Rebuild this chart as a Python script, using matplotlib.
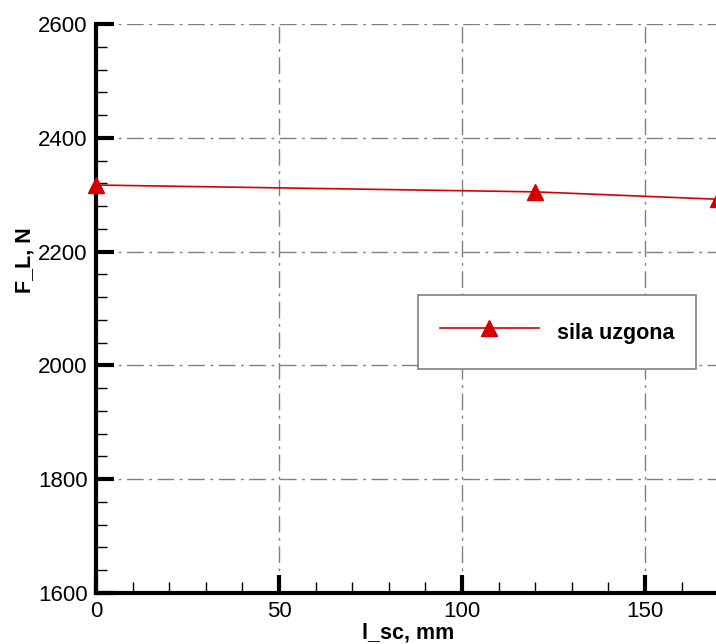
import matplotlib.pyplot as plt
from matplotlib.ticker import MultipleLocator

# data
l_sc = [0, 120, 170]
F_L = [2317, 2305, 2292]
series_label = 'sila uzgona'

plt.rcParams['font.family'] = ['Liberation Sans', 'DejaVu Sans']

fig = plt.figure(figsize=(7.16, 6.44), dpi=100)
# axes extends slightly beyond the right edge, like the cropped original
ax = fig.add_axes([96/716, 51/644, 622.2/716, 569/644])

ax.plot(l_sc, F_L, color='#d40000', linewidth=1.2, marker='^',
        markersize=11, clip_on=False, label=series_label, zorder=5)

ax.set_xlim(0, 170)
ax.set_ylim(1600, 2600)
ax.xaxis.set_major_locator(MultipleLocator(50))
ax.xaxis.set_minor_locator(MultipleLocator(10))
ax.yaxis.set_major_locator(MultipleLocator(200))
ax.yaxis.set_minor_locator(MultipleLocator(40))

ax.spines['top'].set_visible(False)
ax.spines['right'].set_visible(False)
ax.spines['left'].set_linewidth(3)
ax.spines['bottom'].set_linewidth(3)

ax.tick_params(which='major', direction='in', length=13, width=3, labelsize=16, pad=6)
ax.tick_params(which='minor', direction='in', length=8, width=1)

ax.grid(True, which='major', color='#808080', linewidth=1.0,
        linestyle=(0, (12, 4, 2, 4)))

ax.set_xlabel('l_sc, mm', fontsize=15.5, fontweight='bold')
ax.set_ylabel('F_L, N', fontsize=15.5, fontweight='bold')
ax.xaxis.set_label_coords((408 - 96) / 622.2, -0.052)
ax.yaxis.set_label_coords(-0.097, (593 - 260) / 569)

leg = ax.legend(loc='upper left', bbox_to_anchor=((418 - 96) / 622.2, (593 - 295) / 569),
                prop={'weight': 'bold', 'size': 15.5}, fancybox=False,
                framealpha=1, edgecolor='#808080', handlelength=4.6,
                handleheight=1.85, borderpad=1.0, handletextpad=0.85,
                borderaxespad=0)
leg.get_frame().set_linewidth(1.2)

fig.savefig('out.png', dpi=100)
